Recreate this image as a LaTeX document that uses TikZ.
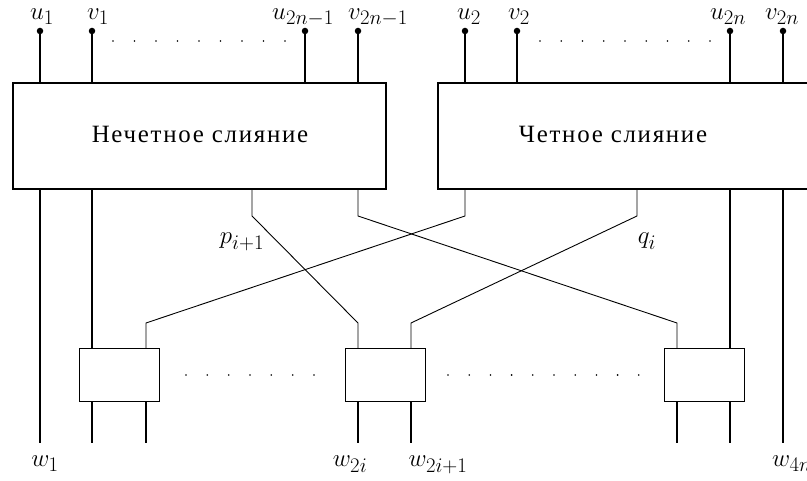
\documentclass[tikz,border=0pt]{standalone}
\usepackage{fontspec}
\newfontfamily\cyr{Liberation Serif}[LetterSpace=7]
\begin{document}
\begin{tikzpicture}[x=1pt,y=-1pt,
  every node/.style={font=\fontsize{24.88}{30}\selectfont, inner sep=0pt},
  bigbox/.style={draw, line width=1.4pt, minimum width=373pt, minimum height=106pt},
  smallbox/.style={draw, line width=1pt, minimum width=80pt, minimum height=53pt},
  cyrtext/.style={font=\fontsize{24.88}{30}\selectfont\cyr},
  pin/.style={line width=1.3pt},
  wire/.style={line width=0.9pt},
  term/.style={circle, fill, minimum size=6.5pt},
  dotmark/.style={circle, fill, minimum size=1.8pt}
]
\useasboundingbox (0,0) rectangle (807,481);

% big boxes
\node[bigbox] (L) at (199.5,136) {};
\node[bigbox] (R) at (624.5,136) {};
\node[cyrtext] (Lt) at (200,134) {Нечетное слияние};
\node[cyrtext] (Rt) at (613,134) {Четное слияние};

% small boxes
\node[smallbox] (B1) at (119,375.5) {};
\node[smallbox] (B2) at (385.5,375.5) {};
\node[smallbox] (B3) at (704,375.5) {};

% top terminals
\foreach \n/\x in {u1/40,v1/92,ua/305,va/358,u2/465,v2/517,ub/730,vb/783}{
  \node[term] (t\n) at (\x,31) {};
  \coordinate (i\n) at (\x,83);
  \draw[pin] (t\n.center) -- (i\n);
}

% top labels
\node[anchor=base] (lu1) at (42,20) {$u_1$};
\node[anchor=base] (lv1) at (98,20) {$v_1$};
\node[anchor=base] (lua) at (303,20) {$u_{2n-1}$};
\node[anchor=base] (lva) at (378,20) {$v_{2n-1}$};
\node[anchor=base] (lu2) at (469,20) {$u_2$};
\node[anchor=base] (lv2) at (519,20) {$v_2$};
\node[anchor=base] (lub) at (728,20) {$u_{2n}$};
\node[anchor=base west] (lvb) at (765,20) {$v_{2n}$};

% dots rows
\foreach \k in {0,...,8}{
  \node[dotmark] (dl\k) at ({113+21.5*\k},41) {};
  \node[dotmark] (dr\k) at ({540+21.25*\k},41) {};
}
\foreach \k in {0,...,6}{
  \node[dotmark] (db\k) at ({186+21.33*\k},375) {};
}
\foreach \k in {0,...,9}{
  \node[dotmark] (dc\k) at ({448+21.2*\k},375) {};
}

% outputs of big boxes
\coordinate (o1) at (40,189);
\coordinate (o2) at (92,189);
\coordinate (o3) at (252,189);
\coordinate (o4) at (358,189);
\coordinate (o5) at (465,189);
\coordinate (o6) at (637,189);
\coordinate (o7) at (730,189);
\coordinate (o8) at (783,189);

% small box inputs and outputs
\coordinate (b1a) at (92,349);  \coordinate (b1b) at (146,349);
\coordinate (b2a) at (358,349); \coordinate (b2b) at (411,349);
\coordinate (b3a) at (677,349); \coordinate (b3b) at (730,349);
\coordinate (c1a) at (92,402);  \coordinate (c1b) at (146,402);
\coordinate (c2a) at (358,402); \coordinate (c2b) at (411,402);
\coordinate (c3a) at (677,402); \coordinate (c3b) at (730,402);

% final outputs
\coordinate (w1) at (40,443);
\coordinate (w2) at (92,443);  \coordinate (w3) at (146,443);
\coordinate (w4) at (358,443); \coordinate (w5) at (411,443);
\coordinate (w6) at (677,443); \coordinate (w7) at (730,443);
\coordinate (w8) at (783,443);

% straight wires
\draw[pin] (o1) -- (w1);
\draw[pin] (o2) -- (b1a);
\draw[pin] (o7) -- (b3b);
\draw[pin] (o8) -- (w8);
\draw[pin] (c1a) -- (w2);
\draw[pin] (c1b) -- (w3);
\draw[pin] (c2a) -- (w4);
\draw[pin] (c2b) -- (w5);
\draw[pin] (c3a) -- (w6);
\draw[pin] (c3b) -- (w7);

% crossing wires
\draw[wire] (o3) -- ++(0,27) -- ([yshift=26pt]b2a) -- (b2a);
\draw[wire] (o4) -- ++(0,27) -- ([yshift=26pt]b3a) -- (b3a);
\draw[wire] (o5) -- ++(0,27) -- ([yshift=26pt]b1b) -- (b1b);
\draw[wire] (o6) -- ++(0,27) -- ([yshift=26pt]b2b) -- (b2b);

% wire labels
\node[anchor=base] (lp) at (242,244) {$p_{i+1}$};
\node[anchor=base] (lq) at (647,244) {$q_i$};

% bottom labels
\node[anchor=base] (lw1) at (45,467) {$w_1$};
\node[anchor=base] (lw2i) at (350,467) {$w_{2i}$};
\node[anchor=base] (lw2j) at (438,467) {$w_{2i+1}$};
\node[anchor=base west] (lw4n) at (772,467) {$w_{4n}$};
\end{tikzpicture}
\end{document}
